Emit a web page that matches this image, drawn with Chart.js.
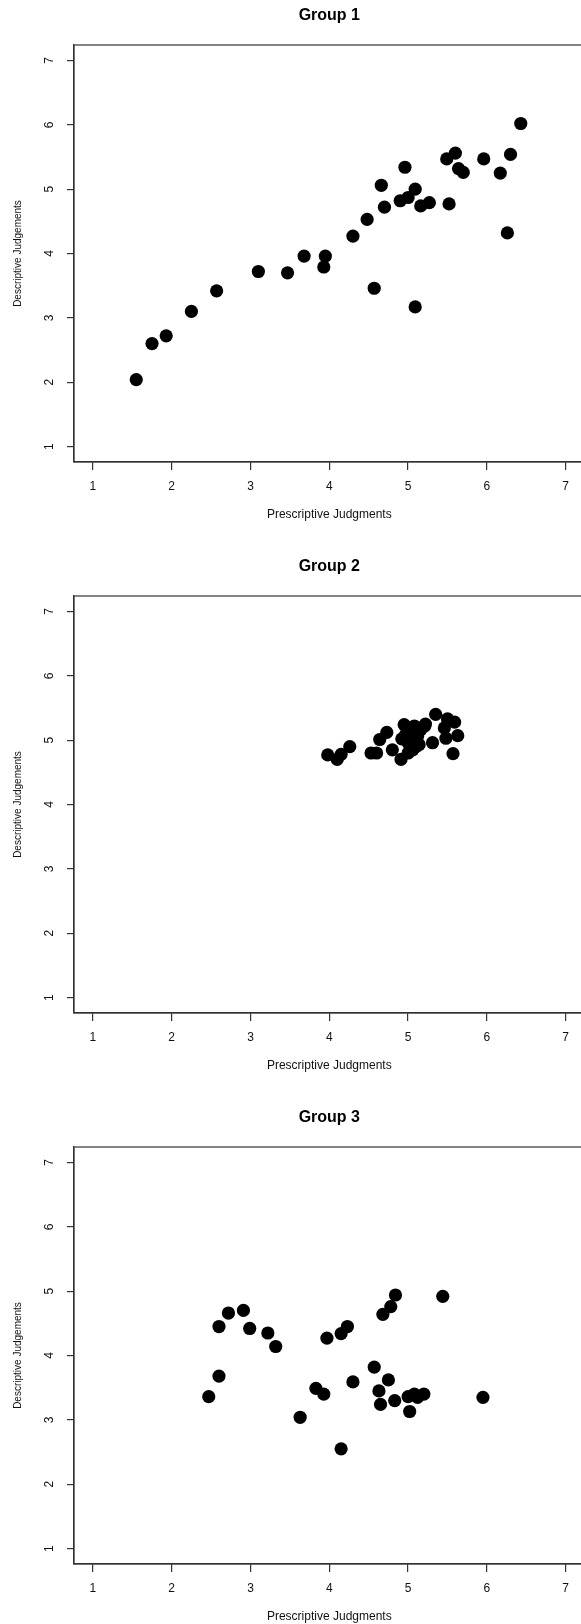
<!DOCTYPE html>
<html>
<head>
<meta charset="utf-8">
<script src="https://cdn.jsdelivr.net/npm/chart.js@4.4.1/dist/chart.umd.min.js"></script>
<style>
  html, body { margin: 0; padding: 0; background: #fff; overflow: hidden; width: 581px; height: 1624px; }
  .panel { width: 600px; height: 551px; position: relative; }
</style>
</head>
<body>
<div class="panel"><canvas id="group1" width="600" height="551"></canvas></div>
<div class="panel"><canvas id="group2" width="600" height="551"></canvas></div>
<div class="panel"><canvas id="group3" width="600" height="551"></canvas></div>
<script>
// Axis ticks (both axes run 1..7)
const tickValues = [1, 2, 3, 4, 5, 6, 7];
const xTitle = 'Prescriptive Judgments';
const yTitle = 'Descriptive Judgements';
const groupTitles = ['Group 1', 'Group 2', 'Group 3'];

// Group 1
const group1X = [1.55, 1.75, 1.93, 2.25, 2.57, 3.10, 3.47, 3.68, 3.95, 3.93, 4.30, 4.48, 4.57, 4.66, 4.70, 4.90,
                 4.96, 5.00, 5.09, 5.09, 5.16, 5.27, 5.49, 5.52, 5.60, 5.64, 5.70, 5.96, 6.17, 6.26, 6.30, 6.43];
const group1Y = [2.04, 2.60, 2.72, 3.10, 3.42, 3.72, 3.70, 3.96, 3.96, 3.79, 4.27, 4.53, 3.46, 5.06, 4.72, 4.82,
                 5.34, 4.87, 5.00, 3.17, 4.74, 4.79, 5.47, 4.77, 5.56, 5.32, 5.26, 5.47, 5.25, 4.32, 5.54, 6.02];

// Group 2
const group2X = [3.98, 4.10, 4.15, 4.26, 4.53, 4.60, 4.64, 4.73, 4.80, 4.91, 4.95, 4.97, 4.92, 5.00, 5.06, 5.08,
                 5.10, 5.14, 5.16, 5.21, 5.22, 5.31, 5.35, 5.46, 5.48, 5.50, 5.59, 5.63, 5.57, 5.02, 5.00, 5.12];
const group2Y = [4.77, 4.70, 4.78, 4.90, 4.80, 4.80, 5.01, 5.12, 4.85, 4.70, 5.24, 5.09, 5.02, 4.80, 4.85, 5.22,
                 4.90, 4.93, 5.16, 5.22, 5.25, 4.96, 5.40, 5.19, 5.03, 5.33, 5.28, 5.07, 4.79, 5.18, 4.96, 5.06];

// Group 3
const group3X = [2.47, 2.60, 2.60, 2.72, 2.91, 2.99, 3.22, 3.32, 3.63, 3.83, 3.93, 3.97, 4.15, 4.23, 4.15, 4.30,
                 4.57, 4.63, 4.65, 4.68, 4.75, 4.78, 4.83, 4.84, 5.00, 5.02, 5.08, 5.12, 5.20, 5.44, 5.95];
const group3Y = [3.36, 3.68, 4.45, 4.66, 4.70, 4.42, 4.35, 4.14, 3.04, 3.49, 3.40, 4.27, 4.34, 4.45, 2.55, 3.59,
                 3.82, 3.45, 3.24, 4.64, 3.62, 4.76, 3.30, 4.94, 3.36, 3.13, 3.40, 3.35, 3.40, 4.92, 3.35];

const FONT = "'Liberation Sans', Arial, Helvetica, sans-serif";
const INK = '#333';

// draws the full box round the plot region, like R's bty="o"
const boxPlugin = {
  id: 'box',
  afterDraw(chart) {
    const a = chart.chartArea, ctx = chart.ctx;
    ctx.save();
    ctx.strokeStyle = INK;
    ctx.lineWidth = 1.2;
    ctx.strokeRect(a.left, a.top, a.right - a.left, a.bottom - a.top);
    ctx.restore();
  }
};

function makePanel(id, title, xs, ys) {
  const points = xs.map((x, i) => ({ x: x, y: ys[i] }));
  const setTicks = scale => { scale.ticks = tickValues.map(v => ({ value: v })); };
  new Chart(document.getElementById(id), {
    type: 'scatter',
    data: {
      datasets: [{
        data: points,
        backgroundColor: '#000',
        borderColor: '#000',
        borderWidth: 0,
        pointRadius: 6.6,
        pointHoverRadius: 6.6
      }]
    },
    options: {
      responsive: false,
      animation: false,
      devicePixelRatio: 1,
      layout: { padding: { left: 0, right: 15.4, top: 0, bottom: 0 } },
      plugins: {
        legend: { display: false },
        tooltip: { enabled: false },
        title: {
          display: true,
          text: title,
          fullSize: false,
          color: '#000',
          font: { family: FONT, size: 16, weight: 'bold' },
          padding: { top: 6.4, bottom: 19.4 }
        }
      },
      scales: {
        x: {
          type: 'linear',
          min: 0.76,
          max: 7.24,
          afterBuildTicks: setTicks,
          afterFit: s => { s.height = 89; },
          grid: { drawOnChartArea: false, drawTicks: true, tickLength: 8, color: INK, lineWidth: 1.2 },
          border: { display: true, color: INK, width: 1.2 },
          ticks: { color: '#111', font: { family: FONT, size: 12 }, padding: 9, maxRotation: 0 },
          title: {
            display: true, text: xTitle, color: '#111',
            font: { family: FONT, size: 12 }, padding: { top: 0, bottom: 28.8 }
          }
        },
        y: {
          type: 'linear',
          min: 0.76,
          max: 7.24,
          afterBuildTicks: setTicks,
          afterFit: s => { s.width = 74; },
          grid: { drawOnChartArea: false, drawTicks: true, tickLength: 7, color: INK, lineWidth: 1.2 },
          border: { display: true, color: INK, width: 1.2 },
          ticks: {
            color: '#111', font: { family: FONT, size: 12 },
            minRotation: 90, maxRotation: 90, crossAlign: 'center', padding: 13.5
          },
          title: {
            display: true, text: yTitle, color: '#111',
            font: { family: FONT, size: 10 }, padding: { top: 12, bottom: 0 }
          }
        }
      }
    },
    plugins: [boxPlugin]
  });
}

makePanel('group1', groupTitles[0], group1X, group1Y);
makePanel('group2', groupTitles[1], group2X, group2Y);
makePanel('group3', groupTitles[2], group3X, group3Y);
</script>
</body>
</html>
